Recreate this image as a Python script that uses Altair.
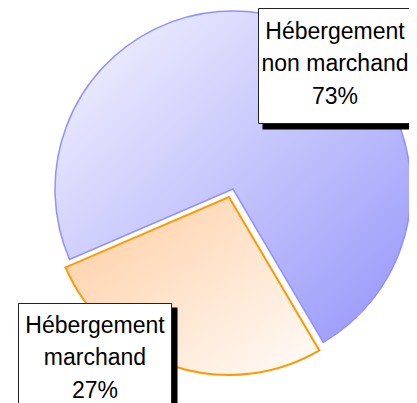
import math
import altair as alt
import pandas as pd

# ---- data ----
categories = ["Hébergement marchand", "Hébergement non marchand"]
values = [27, 73]
label_lines = [["Hébergement", "marchand"], ["Hébergement", "non marchand"]]
pct_labels = ["27%", "73%"]

df = pd.DataFrame({
    "category": categories,
    "value": values,
    "order": [0, 1],
    "label": ["\n".join(l + [p]) for l, p in zip(label_lines, pct_labels)],
})

START = math.radians(149.5)
theta_scale = alt.Scale(domain=[0, 100], range=[START, START + 2 * math.pi])

base = alt.Chart(df).transform_window(
    end="sum(value)", frame=[None, 0], sort=[alt.SortField("order")]
).transform_calculate(start="datum.end - datum.value")

blue_grad = {
    "gradient": "linear", "x1": 0, "y1": 0, "x2": 1, "y2": 1,
    "stops": [{"offset": 0, "color": "#f6f6ff"}, {"offset": 1, "color": "#9595fb"}],
}
orange_grad = {
    "gradient": "linear", "x1": 0, "y1": 0, "x2": 1, "y2": 1,
    "stops": [{"offset": 0, "color": "#ffcca0"}, {"offset": 1, "color": "#fffcfa"}],
}

CX, CY, R = 225, 181, 178

blue = base.transform_filter(alt.datum.order == 1).mark_arc(
    radius=R, fill=blue_grad, stroke="#9090ff", strokeWidth=1.5, x=CX, y=CY
).encode(
    theta=alt.Theta("start:Q", scale=theta_scale),
    theta2="end:Q",
)

orange = base.transform_filter(alt.datum.order == 0).mark_arc(
    radius=R, fill=orange_grad, stroke="#ff9900", strokeWidth=2,
    x=CX, y=CY, xOffset=-4, yOffset=8
).encode(
    theta=alt.Theta("start:Q", scale=theta_scale),
    theta2="end:Q",
)


def box(order, x, x2, y, y2, tx, ty):
    sel = base.transform_filter(alt.datum.order == order)
    shadow = sel.mark_rect(color="black").encode(
        x=alt.value(x + 4), x2=alt.value(x2 + 6), y=alt.value(y + 4), y2=alt.value(y2 + 6)
    )
    rect = sel.mark_rect(fill="white", stroke="#222222", strokeWidth=1).encode(
        x=alt.value(x), x2=alt.value(x2), y=alt.value(y), y2=alt.value(y2)
    )
    text = sel.mark_text(
        lineBreak="\n", fontSize=23, font="Liberation Sans", align="center",
        baseline="alphabetic", lineHeight=32.3, color="black", x=tx, y=ty
    ).encode(text="label:N")
    return [shadow, rect, text]


layers = [blue, orange]
layers += box(0, 10.5, 163.5, 295.5, 420, 87, 325)
layers += box(1, 250.5, 420, 0.5, 115.5, 327, 31)

chart = alt.layer(*layers).properties(
    width=401, height=395, padding=0, autosize="none"
).configure_view(stroke=None)

chart.save("out.html", embed_options={"renderer": "svg", "actions": False})
